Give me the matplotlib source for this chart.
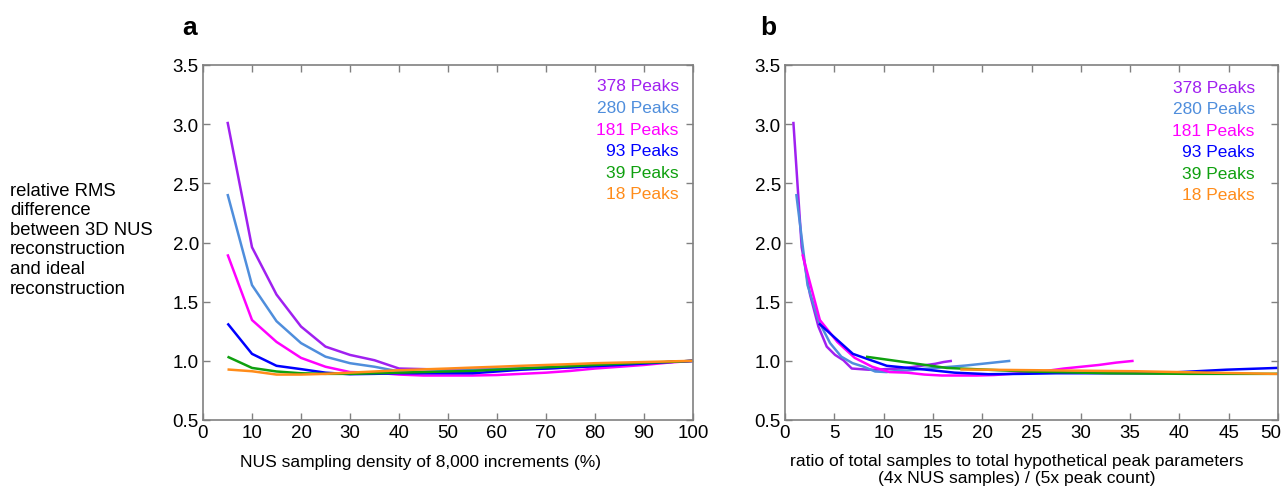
import matplotlib
matplotlib.use("Agg")
import matplotlib.pyplot as plt
import matplotlib.transforms as mtransforms
import numpy as np

plt.rcParams['font.family'] = ['Liberation Sans', 'DejaVu Sans']

# NUS sampling density (%)
density = [5, 10, 15, 20, 25, 30, 35, 40, 45, 50, 55, 60, 65, 70, 75, 80, 85, 90, 95, 100]
total_increments = 8000

peak_counts = [378, 280, 181, 93, 39, 18]
rms_378 = [3.02, 1.96, 1.56, 1.29, 1.12, 1.05, 1.005, 0.935, 0.93, 0.925, 0.925, 0.93, 0.932, 0.935, 0.945, 0.955, 0.965, 0.975, 0.99, 1.0]
rms_280 = [2.41, 1.64, 1.335, 1.15, 1.035, 0.98, 0.95, 0.91, 0.905, 0.915, 0.92, 0.93, 0.937, 0.945, 0.952, 0.96, 0.97, 0.98, 0.99, 1.0]
rms_181 = [1.90, 1.345, 1.16, 1.025, 0.95, 0.905, 0.90, 0.884, 0.876, 0.876, 0.876, 0.88, 0.89, 0.90, 0.915, 0.935, 0.95, 0.965, 0.985, 1.0]
rms_93 = [1.316, 1.059, 0.958, 0.93, 0.90, 0.887, 0.89, 0.895, 0.895, 0.895, 0.895, 0.91, 0.925, 0.935, 0.945, 0.955, 0.965, 0.977, 0.99, 1.0]
rms_39 = [1.035, 0.94, 0.91, 0.895, 0.89, 0.89, 0.895, 0.90, 0.905, 0.91, 0.915, 0.925, 0.935, 0.945, 0.955, 0.965, 0.975, 0.985, 0.99, 1.0]
rms_18 = [0.927, 0.912, 0.884, 0.884, 0.89, 0.90, 0.91, 0.92, 0.928, 0.935, 0.943, 0.95, 0.958, 0.965, 0.972, 0.98, 0.985, 0.99, 0.995, 1.0]
series = [rms_378, rms_280, rms_181, rms_93, rms_39, rms_18]
labels = ['378 Peaks', '280 Peaks', '181 Peaks', '93 Peaks', '39 Peaks', '18 Peaks']
colors = ['#A020F0', '#4F8EDC', '#FF00FF', '#0000FF', '#0FA00F', '#FF8C1A']

fig = plt.figure(figsize=(12.84, 4.89), dpi=100)
W, H = 1284, 489

def axes_px(l, r, t, b):
    return fig.add_axes([l / W, (H - b) / H, (r - l) / W, (b - t) / H])

axa = axes_px(203, 693, 66, 421)
axb = axes_px(785, 1278, 66, 421)

d = np.array(density) / 100.0
for vals, pk, c in zip(series, peak_counts, colors):
    axa.plot(density, vals, color=c, lw=1.8, solid_capstyle='butt')
    # ratio = (4 x NUS samples) / (5 x peak count)
    ratio = 4 * d * total_increments / (5 * pk)
    axb.plot(ratio, vals, color=c, lw=1.8, solid_capstyle='butt')

for ax, xmax, step in [(axa, 100, 10), (axb, 50, 5)]:
    ax.set_xlim(0, xmax)
    ax.set_ylim(0.5, 3.5)
    ax.set_xticks(np.arange(0, xmax + 1, step))
    ax.set_yticks(np.arange(0.5, 3.51, 0.5))
    ax.set_yticklabels([f"{v:.1f}" for v in np.arange(0.5, 3.51, 0.5)])
    ax.tick_params(direction='in', top=True, right=True, length=5, width=1,
                   color='#808080', labelsize=13.5, pad=3)
    for s in ax.spines.values():
        s.set_color('#808080')
        s.set_linewidth(1.2)

# keep the last tick label of panel b inside the figure
fig.canvas.draw()
lastlab = axb.get_xticklabels()[-1]
lastlab.set_transform(lastlab.get_transform() +
                      mtransforms.ScaledTranslation(-7 / 100, 0, fig.dpi_scale_trans))

# legends as text
for ax, xr, y0 in [(axa, 0.971, 0.941), (axb, 0.953, 0.938)]:
    for i, (lab, c) in enumerate(zip(labels, colors)):
        ax.text(xr, y0 - i * 0.0608, lab, color=c, ha='right', va='center',
                fontsize=12.5, transform=ax.transAxes)

# panel letters
fig.text(190 / W, 1 - 28 / H, 'a', fontsize=19, fontweight='bold', ha='center', va='center')
fig.text(768 / W, 1 - 28 / H, 'b', fontsize=19, fontweight='bold', ha='center', va='center')

# y label
fig.text(10 / W, 1 - 240 / H,
         'relative RMS\ndifference\nbetween 3D NUS\nreconstruction\nand ideal\nreconstruction',
         fontsize=13.3, ha='left', va='center', linespacing=1.2)

# x labels
fig.text(420 / W, 1 - 463 / H, 'NUS sampling density of 8,000 increments (%)',
         fontsize=12.5, ha='center', va='center')
fig.text(1017 / W, 1 - 470 / H,
         'ratio of total samples to total hypothetical peak parameters\n(4x NUS samples) / (5x peak count)',
         fontsize=12.6, ha='center', va='center', linespacing=1.1)

fig.savefig('out.png', dpi=100)
